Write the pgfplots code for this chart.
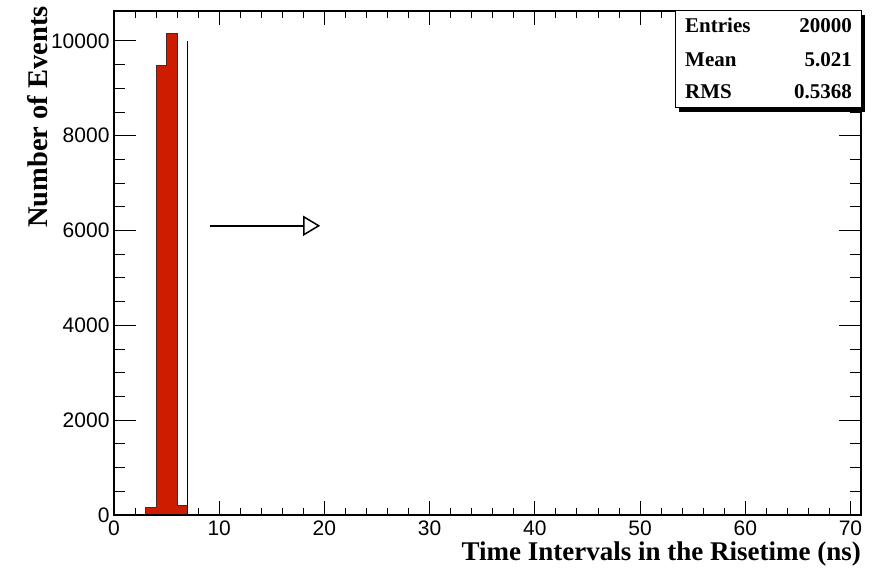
\documentclass[border=0pt]{standalone}
\usepackage{fontspec}
\setmainfont{Liberation Serif}
\setsansfont{Liberation Sans}
\usepackage{pgfplots}
\pgfplotsset{compat=1.18}
\usetikzlibrary{arrows.meta}

\definecolor{histred}{RGB}{205,28,0}

\pgfplotsset{
    rootframe/.style={
        at={(114pt,58pt)},
        anchor=south west,
        scale only axis,
        width=747pt,
        height=504pt,
        xmin=0, xmax=71,
        ymin=0, ymax=10630,
        axis line style={line width=1.3pt},
        every tick/.append style={black, line width=0.9pt},
        tick align=inside,
        /pgf/number format/assume math mode=true,
        /pgf/number format/1000 sep={},
        ticklabel style={font=\sffamily\fontsize{21}{21}\selectfont},
    },
}

\begin{document}
\begin{tikzpicture}[x=1pt,y=1pt]
\path[use as bounding box] (0,0) rectangle (872,573);

% x ticks (short) and the data
\begin{axis}[
    rootframe,
    xtick={0,10,...,70},
    minor x tick num=4,
    ytick=\empty,
    major tick length=14pt,
    minor tick length=7pt,
    xticklabel style={yshift=-2pt},
]
% histogram, 1 ns bins
\addplot[ybar interval, fill=histred, draw=none] coordinates {
    (3,160) (4,9480) (5,10150) (6,210) (7,0)
};
\addplot[const plot, black!80, line width=0.9pt] coordinates {
    (3,0) (3,160) (4,9480) (5,10150) (6,210) (7,0)
};
% cut line
\addplot[black, line width=1.4pt] coordinates {(7,0) (7,10000)};
\draw[line width=1.5pt, -{Triangle[open, length=17pt, width=20pt, line width=1.5pt]}]
    (axis cs:9.1,6100) -- (axis cs:19.6,6100);
\end{axis}

% y ticks (longer)
\begin{axis}[
    rootframe,
    xtick=\empty,
    ytick={0,2000,...,10000},
    minor y tick num=3,
    scaled y ticks=false,
    major tick length=22pt,
    minor tick length=11pt,
    yticklabel style={xshift=-1pt},
]
\end{axis}

% axis titles
\node[anchor=base east, font=\bfseries\fontsize{27}{27}\selectfont, inner sep=0pt]
    at (861,13) {Time Intervals in the Risetime (ns)};
\node[rotate=90, anchor=base east, font=\bfseries\fontsize{28.5}{28.5}\selectfont, inner sep=0pt]
    at (47,567) {Number of Events};

% stats box
\fill[black] (679,461) rectangle (865,558);
\draw[fill=white, line width=1pt] (675,465) rectangle (861,562);
\begin{scope}[font=\bfseries\fontsize{21}{21}\selectfont]
\node[anchor=base west, inner sep=0pt] at (685,540) {Entries};
\node[anchor=base east, inner sep=0pt] at (852,540) {20000};
\node[anchor=base west, inner sep=0pt] at (685,506) {Mean};
\node[anchor=base east, inner sep=0pt] at (852,506) {5.021};
\node[anchor=base west, inner sep=0pt] at (685,474) {RMS};
\node[anchor=base east, inner sep=0pt] at (852,474) {0.5368};
\end{scope}
\end{tikzpicture}
\end{document}
